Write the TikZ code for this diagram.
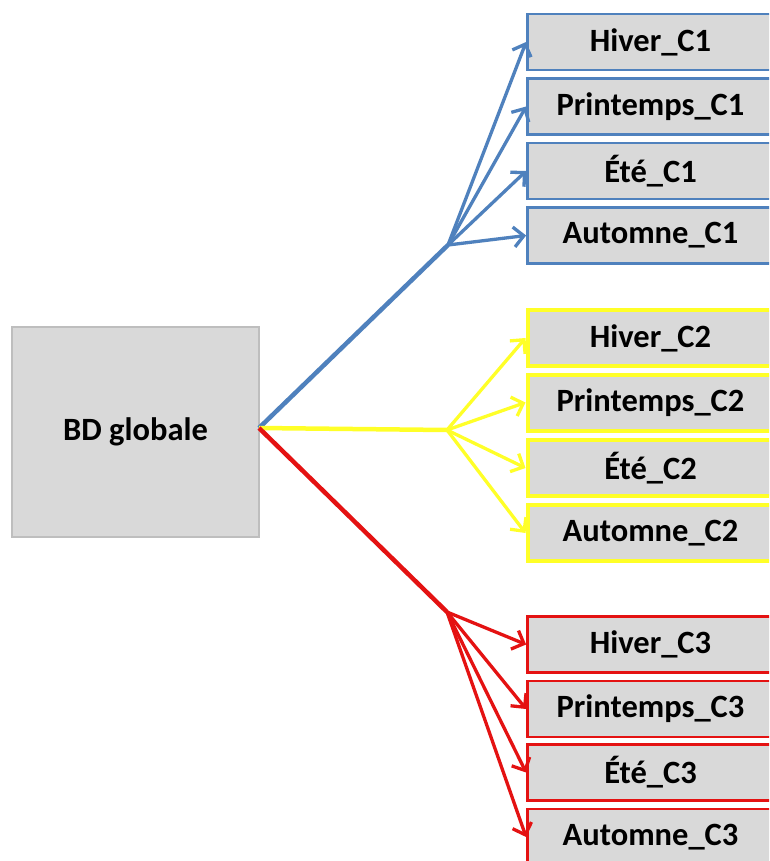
\documentclass[tikz,border=0pt]{standalone}
\usepackage{fontspec}
\setmainfont{Carlito}
\usetikzlibrary{arrows.meta}
\definecolor{cblue}{RGB}{79,129,189}
\definecolor{cyel}{RGB}{255,255,40}
\definecolor{cred}{RGB}{228,18,18}
\definecolor{boxgray}{RGB}{217,217,217}
\definecolor{bdborder}{RGB}{190,190,190}
\tikzset{
  leaf/.style={draw, fill=boxgray, minimum width=246pt, minimum height=56pt, inner sep=0pt,
    font=\fontsize{32.5}{38}\selectfont\bfseries, text=black},
  bluebox/.style={leaf, draw=cblue, line width=2.8pt},
  yelbox/.style={leaf, draw=cyel, line width=4pt},
  redbox/.style={leaf, draw=cred, line width=2.8pt},
  mainline/.style={line width=4.5pt},
  arr/.style={line width=3.3pt, -{Straight Barb[length=10pt,width=20pt]}},
}
\begin{document}
\begin{tikzpicture}[x=1pt,y=-1pt]
\clip (0,0) rectangle (769,861);
\fill[white] (0,0) rectangle (769,861);
% source box
\node[draw=bdborder, line width=2pt, fill=boxgray, minimum width=247pt, minimum height=210pt,
  inner sep=0pt, font=\fontsize{32.5}{38}\selectfont\bfseries] (bd) at (135.5,432) {BD globale};
\coordinate (src) at (259,428);
\coordinate (h1) at (448,245);
\coordinate (h2) at (447,430);
\coordinate (h3) at (447,612);
% C1
\node[bluebox] (a1) at (650.5,42) {Hiver\_C1};
\node[bluebox] (a2) at (650.5,106.5) {Printemps\_C1};
\node[bluebox] (a3) at (650.5,171) {Été\_C1};
\node[bluebox] (a4) at (650.5,235.5) {Automne\_C1};
% C2
\node[yelbox] (b1) at (650.5,338) {Hiver\_C2};
\node[yelbox] (b2) at (650.5,402.5) {Printemps\_C2};
\node[yelbox] (b3) at (650.5,468) {Été\_C2};
\node[yelbox] (b4) at (650.5,533) {Automne\_C2};
% C3
\node[redbox] (c1) at (650.5,644.5) {Hiver\_C3};
\node[redbox] (c2) at (650.5,709) {Printemps\_C3};
\node[redbox] (c3) at (650.5,772.5) {Été\_C3};
\node[redbox] (c4) at (650.5,837) {Automne\_C3};
% main branches
\draw[mainline, cblue] (src) -- (h1);
\draw[mainline, cyel] (src) -- (h2);
\draw[mainline, cred] (src) -- (h3);
% arrows
\foreach \n in {a1,a2,a3,a4} \draw[arr, cblue] (h1) -- (\n.west);
\foreach \n in {b1,b2,b3,b4} \draw[arr, cyel] (h2) -- (\n.west);
\foreach \n in {c1,c2,c3,c4} \draw[arr, cred] (h3) -- (\n.west);
\end{tikzpicture}
\end{document}
